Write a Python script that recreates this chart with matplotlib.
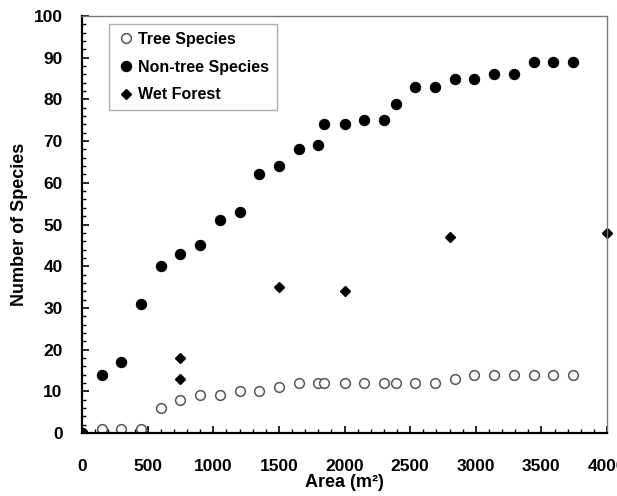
import matplotlib
matplotlib.use("Agg")
import matplotlib.pyplot as plt
from matplotlib.ticker import MultipleLocator

matplotlib.rcParams['font.family'] = ['Liberation Sans', 'DejaVu Sans']
matplotlib.rcParams['font.weight'] = 'bold'

# 数据
area = [0, 150, 300, 450, 600, 750, 900, 1050, 1200, 1350, 1500, 1650, 1800, 1840,
        2000, 2150, 2300, 2390, 2540, 2690, 2840, 2990, 3140, 3290, 3440, 3590, 3740]
tree_species = [0, 1, 1, 1, 6, 8, 9, 9, 10, 10, 11, 12, 12, 12,
                12, 12, 12, 12, 12, 12, 13, 14, 14, 14, 14, 14, 14]
nontree_species = [0, 14, 17, 31, 40, 43, 45, 51, 53, 62, 64, 68, 69, 74,
                   74, 75, 75, 79, 83, 83, 85, 85, 86, 86, 89, 89, 89]

wet_area = [750, 750, 1500, 2000, 2800, 4000]
wet_species = [18, 13, 35, 34, 47, 48]

fig = plt.figure(figsize=(6.17, 4.96), dpi=100)
ax = fig.add_axes([0.1329, 0.127, 0.851, 0.8407])

ax.plot(area, tree_species, 'o', markersize=7, markerfacecolor='white',
        markeredgecolor='#555555', markeredgewidth=1.1, label='Tree Species')
ax.plot(area, nontree_species, 'o', markersize=7.2, color='black',
        label='Non-tree Species')
ax.plot(wet_area, wet_species, 'D', markersize=5.5, color='black',
        label='Wet Forest', clip_on=False)

ax.set_xlim(0, 4000)
ax.set_ylim(0, 100)
ax.xaxis.set_major_locator(MultipleLocator(500))
ax.xaxis.set_minor_locator(MultipleLocator(100))
ax.yaxis.set_major_locator(MultipleLocator(10))
ax.yaxis.set_minor_locator(MultipleLocator(2))

ax.tick_params(which='both', direction='in', top=False, right=False, labelsize=12.5)
ax.tick_params(which='major', length=5, width=1.2)
ax.tick_params(which='minor', length=3, width=1.0)
ax.tick_params(axis='x', which='major', pad=18.5)
ax.tick_params(axis='y', which='major', pad=14)

for s in ['left', 'bottom']:
    ax.spines[s].set_linewidth(1.6)
    ax.spines[s].set_color('black')
for s in ['top', 'right']:
    ax.spines[s].set_linewidth(1.0)
    ax.spines[s].set_color('#777777')

ax.set_xlabel('Area (m²)', fontsize=13, fontweight='bold', labelpad=0)
ax.set_ylabel('Number of Species', fontsize=13, fontweight='bold', labelpad=4)

leg = ax.legend(loc='upper left', bbox_to_anchor=(0.051, 0.981), borderaxespad=0,
                fontsize=11.5, frameon=True, fancybox=False, handlelength=1.2,
                handletextpad=0.1, labelspacing=0.8, borderpad=0.5)
leg.get_frame().set_edgecolor('#999999')
leg.get_frame().set_linewidth(1.0)

plt.savefig('out.png', dpi=100)
plt.close()
